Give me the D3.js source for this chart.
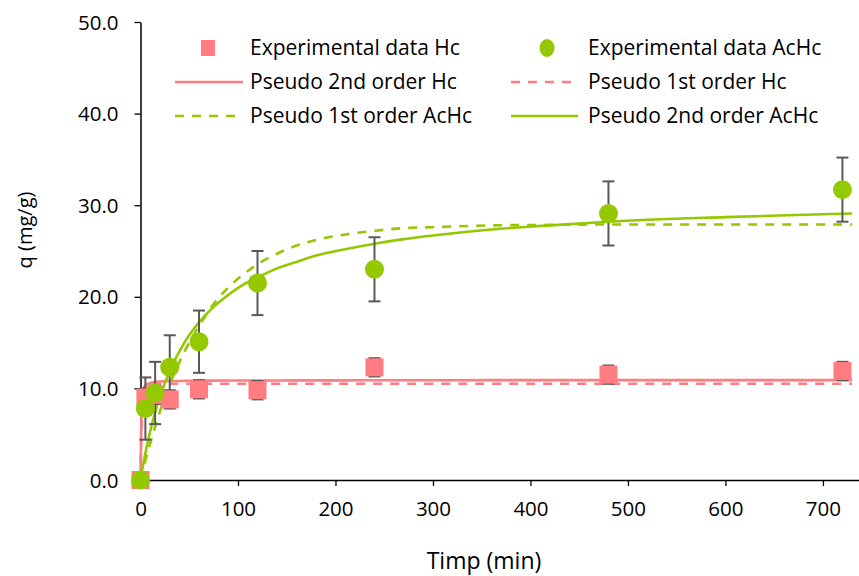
<!DOCTYPE html>
<html><head><meta charset="utf-8">
<script src="https://cdn.jsdelivr.net/npm/d3@7"></script>
<style>
body{margin:0;background:#fff;}
svg{display:block;font-family:"Open Sans",sans-serif;}
</style></head>
<body><svg id="c" width="859" height="576"></svg>
<script>
// Experimental data
const times = [0, 5, 15, 30, 60, 120, 240, 480, 720];
const qHc = [0, 9.0, 9.3, 8.8, 9.9, 9.8, 12.3, 11.5, 11.9];
const errHc = [0, 1.0, 1.0, 1.0, 1.0, 1.0, 1.0, 1.0, 1.0];
const qAcHc = [0, 7.8, 9.5, 12.3, 15.1, 21.5, 23.0, 29.1, 31.7];
const errAcHc = [0, 3.4, 3.4, 3.5, 3.4, 3.5, 3.5, 3.5, 3.5];

// Model curves
const fitTimes = [0, 1, 2, 3, 5, 10, 15, 20, 30, 45, 60, 75, 90, 105, 120, 140, 160, 180, 210, 240, 270, 300, 360, 420, 480, 600, 730];
const pso2Hc   = [0, 7.5, 9.3, 9.9, 10.3, 10.6, 10.7, 10.75, 10.8, 10.82, 10.84, 10.85, 10.86, 10.86, 10.87, 10.87, 10.88, 10.88, 10.88, 10.89, 10.89, 10.89, 10.9, 10.9, 10.9, 10.9, 10.9];
const pso1Hc   = [0, 6.0, 8.5, 9.6, 10.3, 10.5, 10.5, 10.5, 10.5, 10.5, 10.5, 10.5, 10.5, 10.5, 10.5, 10.5, 10.5, 10.5, 10.5, 10.5, 10.5, 10.5, 10.5, 10.5, 10.5, 10.5, 10.5];
const pso1AcHc = [0, 0.43, 0.85, 1.27, 2.1, 4.0, 5.8, 7.5, 10.4, 14.0, 16.8, 19.2, 21.0, 22.4, 23.55, 24.7, 25.6, 26.2, 26.8, 27.2, 27.5, 27.6, 27.8, 27.85, 27.9, 27.9, 27.9];
const pso2AcHc = [0, 0.63, 1.24, 1.82, 2.92, 5.34, 7.38, 9.1, 11.9, 15.0, 17.2, 18.9, 20.2, 21.3, 22.1, 23.1, 23.8, 24.5, 25.2, 25.8, 26.3, 26.7, 27.35, 27.8, 28.2, 28.7, 29.1];

const xTicks = [0, 100, 200, 300, 400, 500, 600, 700];
const yTicks = [0, 10, 20, 30, 40, 50];

const legendLabels = ["Experimental data Hc", "Experimental data AcHc", "Pseudo 2nd order Hc", "Pseudo 1st order Hc", "Pseudo 1st order AcHc", "Pseudo 2nd order AcHc"];
const xTitle = "Timp (min)";
const yTitle = "q (mg/g)";

const RED = "#FF7C80", GREEN = "#94C800", ERR = "#595959";

const svg = d3.select("#c");
const x = d3.scaleLinear().domain([0, 737]).range([140.5, 859]);
const y = d3.scaleLinear().domain([0, 50]).range([480, 22]);

const line = (vals) => d3.line().curve(d3.curveMonotoneX)
  .x((d, i) => x(fitTimes[i])).y(d => y(d))(vals);

// axes
const xAxis = svg.append("g").attr("transform", "translate(0,480)")
  .call(d3.axisBottom(x).tickValues(xTicks).tickSize(6).tickSizeOuter(0).tickFormat(d3.format("d")));
const yAxis = svg.append("g").attr("transform", "translate(140.5,0)")
  .call(d3.axisLeft(y).tickValues(yTicks).tickSize(6).tickSizeOuter(0).tickFormat(d3.format(".1f")));
[xAxis, yAxis].forEach(a => {
  a.select(".domain").attr("stroke", "#000").attr("stroke-width", 1.5);
  a.selectAll(".tick line").attr("stroke", "#000").attr("stroke-width", 1.3);
  a.selectAll(".tick text").attr("fill", "#000").style("font-size", "20.5px").style("font-family", "Open Sans, sans-serif");
});
xAxis.selectAll(".tick text").attr("dy", "0").attr("y", 36);
yAxis.selectAll(".tick text").attr("x", -22).attr("dy", "0.35em");

// titles
svg.append("text").attr("x", 484).attr("y", 569).attr("text-anchor", "middle")
  .style("font-size", "23px").text(xTitle);
svg.append("text").attr("transform", "translate(32,230) rotate(-90)").attr("text-anchor", "middle")
  .style("font-size", "20px").text(yTitle);

// model lines
const models = [
  {v: pso2Hc, c: RED, dash: null},
  {v: pso1Hc, c: RED, dash: "9,8"},
  {v: pso1AcHc, c: GREEN, dash: "9,8"},
  {v: pso2AcHc, c: GREEN, dash: null}
];
models.forEach(m => {
  svg.append("path").attr("d", line(m.v)).attr("fill", "none")
    .attr("stroke", m.c).attr("stroke-width", 2.6)
    .attr("stroke-dasharray", m.dash);
});

// error bars
function errBars(vals, errs) {
  const g = svg.append("g").attr("stroke", ERR).attr("stroke-width", 2);
  times.forEach((t, i) => {
    if (!errs[i]) return;
    const cx = x(t), y0 = y(vals[i] - errs[i]), y1 = y(vals[i] + errs[i]);
    g.append("line").attr("x1", cx).attr("x2", cx).attr("y1", y0).attr("y2", y1);
    g.append("line").attr("x1", cx - 6).attr("x2", cx + 6).attr("y1", y0).attr("y2", y0);
    g.append("line").attr("x1", cx - 6).attr("x2", cx + 6).attr("y1", y1).attr("y2", y1);
  });
}
errBars(qHc, errHc);
errBars(qAcHc, errAcHc);

// markers
svg.append("g").selectAll("rect").data(times).join("rect")
  .attr("x", (t) => x(t) - 9).attr("y", (t, i) => y(qHc[i]) - 9)
  .attr("width", 18).attr("height", 18).attr("fill", RED);
svg.append("g").selectAll("circle").data(times).join("circle")
  .attr("cx", t => x(t)).attr("cy", (t, i) => y(qAcHc[i])).attr("r", 9.5).attr("fill", GREEN);

// legend
const lg = svg.append("g").style("font-size", "21px");
const rows = [48, 82, 116];
const cols = [{sx: 175, ex: 243, mx: 208, tx: 250}, {sx: 511, ex: 578, mx: 547, tx: 588}];
const items = [
  {type: "rect", c: RED, col: 0, row: 0},
  {type: "circle", c: GREEN, col: 1, row: 0},
  {type: "line", c: RED, dash: null, col: 0, row: 1},
  {type: "line", c: RED, dash: "9,8", col: 1, row: 1},
  {type: "line", c: GREEN, dash: "9,8", col: 0, row: 2},
  {type: "line", c: GREEN, dash: null, col: 1, row: 2}
];
items.forEach((it, i) => {
  const col = cols[it.col], ry = rows[it.row];
  if (it.type === "rect") lg.append("rect").attr("x", col.mx - 7).attr("y", ry - 8).attr("width", 14).attr("height", 16).attr("fill", it.c);
  else if (it.type === "circle") lg.append("ellipse").attr("cx", col.mx).attr("cy", ry).attr("rx", 7.5).attr("ry", 9).attr("fill", it.c);
  else lg.append("line").attr("x1", col.sx).attr("x2", col.ex).attr("y1", ry).attr("y2", ry)
    .attr("stroke", it.c).attr("stroke-width", 2.6).attr("stroke-dasharray", it.dash);
  lg.append("text").attr("x", col.tx).attr("y", ry).attr("dy", "0.35em").attr("fill", "#000").text(legendLabels[i]);
});
</script></body></html>
